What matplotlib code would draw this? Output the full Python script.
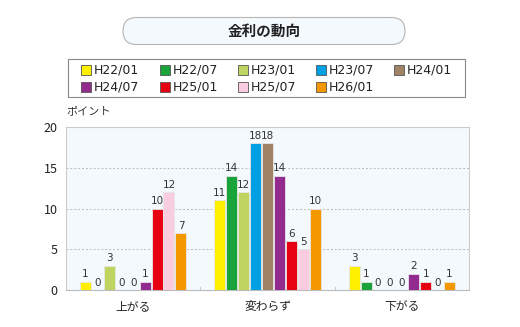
import matplotlib
matplotlib.use("Agg")
import matplotlib.pyplot as plt
from matplotlib.patches import FancyBboxPatch, Rectangle
import numpy as np

plt.rcParams['font.family'] = ['Noto Sans CJK JP', 'DejaVu Sans']

title = "金利の動向"
ylabel = "ポイント"
categories = ["上がる", "変わらず", "下がる"]
series = ["H22/01", "H22/07", "H23/01", "H23/07", "H24/01",
          "H24/07", "H25/01", "H25/07", "H26/01"]
colors = ["#FFF000", "#1AA33A", "#BED460", "#00A0E3", "#A08264",
          "#932A8E", "#E60012", "#F9CCDF", "#F39800"]
values = [
    [1, 11, 3],    # H22/01
    [0, 14, 1],    # H22/07
    [3, 12, 0],    # H23/01
    [0, 18, 0],    # H23/07
    [0, 18, 0],    # H24/01
    [1, 14, 2],    # H24/07
    [10, 6, 1],    # H25/01
    [12, 5, 0],    # H25/07
    [7, 10, 1],    # H26/01
]
yticks = [0, 5, 10, 15, 20]

fig = plt.figure(figsize=(5.2, 3.27), dpi=100)
W, H = 520, 327

# Overlay in pixel units for the header decorations
deco = fig.add_axes([0, 0, 1, 1])
deco.set_xlim(0, W)
deco.set_ylim(H, 0)
deco.axis("off")

pill = FancyBboxPatch((123, 17.5), 405 - 123, 27,
                      boxstyle="round,pad=0,rounding_size=13.5",
                      facecolor="#F3F9FD", edgecolor="#B5B5B5",
                      linewidth=0.8)
deco.add_patch(pill)
deco.text(264, 31, title, ha="center", va="center",
          fontsize=10.5, fontweight="bold", color="#222222")

deco.add_patch(Rectangle((68, 59), 465 - 68, 38, facecolor="white",
                         edgecolor="#888888", linewidth=0.8))
col_x = [81, 160, 238, 316, 394]
row_y = [70, 87]
for i, (name, c) in enumerate(zip(series, colors)):
    r, k = divmod(i, 5)
    x0, y0 = col_x[k], row_y[r]
    deco.add_patch(Rectangle((x0, y0 - 5), 10, 10, facecolor=c,
                             edgecolor="#555555", linewidth=0.6))
    deco.text(x0 + 13, y0, name, ha="left", va="center",
              fontsize=9, color="#222222", family="DejaVu Sans")

deco.text(66, 111, ylabel, ha="left", va="center", fontsize=8,
          color="#333333")

# Bar chart
ax = fig.add_axes([66 / W, 1 - 290 / H, (469 - 66) / W, (290 - 127) / H])
ax.set_facecolor("#F3F9FD")
n = len(series)
slot = 0.8 / n
x = np.arange(len(categories))
for i, (name, c) in enumerate(zip(series, colors)):
    pos = x - 0.4 + slot * (i + 0.5)
    bars = ax.bar(pos, values[i], width=slot * 0.92, color=c,
                  edgecolor="#E6E6E6", linewidth=0.6, zorder=3)
    for b, v in zip(bars, values[i]):
        ax.text(b.get_x() + b.get_width() / 2, v + 0.3, str(v),
                ha="center", va="bottom", fontsize=7.5, color="#333333",
                zorder=4, family="DejaVu Sans")

ax.set_xlim(-0.5, len(categories) - 0.5)
ax.set_ylim(0, 20)
ax.set_yticks(yticks)
ax.set_yticklabels([str(t) for t in yticks], fontsize=9, color="#222222")
ax.set_xticks(x)
ax.set_xticklabels(categories, fontsize=8.5, color="#222222")
ax.tick_params(axis="both", length=0, pad=6)
ax.tick_params(axis="x", pad=7)
for t in [0.5, 1.5]:
    ax.plot([t, t], [0, 0.35], color="#CCCCCC", linewidth=0.8, zorder=2)
for t in [5, 10, 15]:
    ax.axhline(t, color="#BBBBBB", linewidth=0.7, linestyle=(0, (2, 2)),
               zorder=1)
for s in ax.spines.values():
    s.set_color("#CCCCCC")
    s.set_linewidth(0.8)
ax.spines["bottom"].set_color("#BBBBBB")

fig.savefig("out.png", dpi=100)
